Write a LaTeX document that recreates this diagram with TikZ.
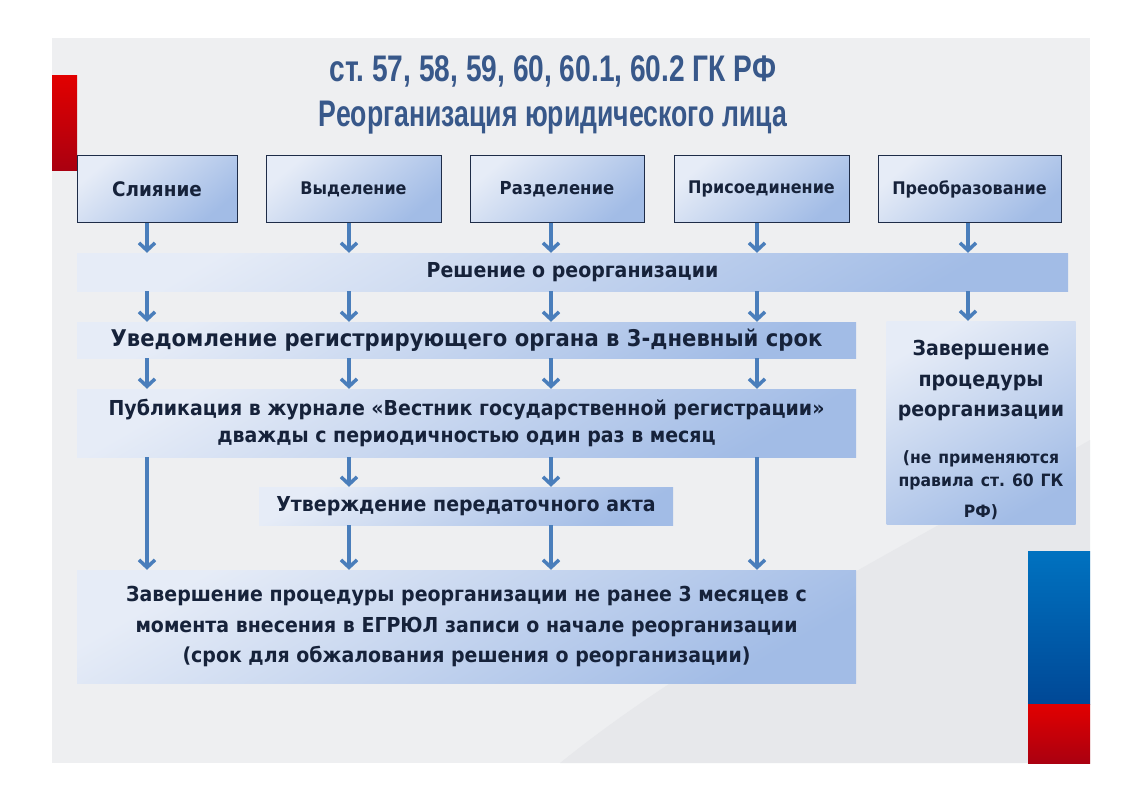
\documentclass[tikz,border=0pt]{standalone}
\usepackage{fontspec}
\setmainfont{DejaVu Sans}[FakeStretch=0.92]
\newfontfamily\titlefont{Liberation Sans}[FakeStretch=0.76]
\newfontfamily\titlenarrow{Liberation Sans}[FakeStretch=0.72]
\usetikzlibrary{arrows.meta,positioning}
\frenchspacing

\definecolor{panelgray}{RGB}{238,239,241}
\definecolor{swooshgray}{RGB}{231,232,235}
\definecolor{boxlight}{RGB}{230,236,247}
\definecolor{boxdark}{RGB}{162,188,230}
\definecolor{framenavy}{RGB}{30,44,72}
\definecolor{textnavy}{RGB}{22,34,58}
\definecolor{titleblue}{RGB}{56,88,138}
\definecolor{arrowblue}{RGB}{74,126,187}
\definecolor{flagred}{RGB}{226,0,0}
\definecolor{flagdarkred}{RGB}{170,0,16}
\definecolor{flagblue}{RGB}{0,114,192}
\definecolor{flagdarkblue}{RGB}{0,72,150}

\newcommand{\smallnote}{\fontsize{17}{23}\selectfont}

\tikzset{
    kind/.style={draw=framenavy, line width=0.8pt, top color=boxlight, bottom color=boxdark, shading angle=40,
        minimum height=67pt, inner sep=0pt, text=textnavy, font=\bfseries\fontsize{17.4}{20}\selectfont},
    stage/.style={top color=boxlight, bottom color=boxdark, shading angle=30, inner sep=0pt,
        align=center, text=textnavy, font=\bfseries\fontsize{20.6}{30.5}\selectfont},
    flow/.style={draw=arrowblue, line width=3.5pt, -{Straight Barb[length=7.5pt,width=16pt]}},
}

\begin{document}
\begin{tikzpicture}[x=1pt,y=-1pt]
    \useasboundingbox (0,0) rectangle (1122,793);
    % background and flag bars
    \fill[white] (0,0) rectangle (1122,793);
    \fill[panelgray] (52,38) rectangle (1090,763);
    \fill[swooshgray] (560,763) .. controls (700,650) and (880,560) .. (1090,440) -- (1090,763) -- cycle;
    \shade[top color=flagred, bottom color=flagdarkred] (52,75) rectangle (77,170);
    \shade[top color=flagblue, bottom color=flagdarkblue] (1028,551) rectangle (1090,704);
    \shade[top color=flagred, bottom color=flagdarkred] (1028,704) rectangle (1090,763);

    % title
    \node[text=titleblue, font=\titlefont\bfseries\fontsize{37}{45}\selectfont, align=center] (title) at (553,95)
        {ст. 57, 58, 59, 60, 60.1, 60.2 ГК РФ\\\titlenarrow Реорганизация юридического лица};

    % kinds of reorganization
    \node[kind, minimum width=160pt, font=\bfseries\fontsize{20}{20}\selectfont] (sl) at (157,189) {Слияние};
    \node[kind, minimum width=175pt] (vyd) at (353.5,189) {Выделение};
    \node[kind, minimum width=174pt, font=\bfseries\fontsize{17.9}{20}\selectfont] (razd) at (557,189) {Разделение};
    \node[kind, minimum width=175pt] (pris) at (761.5,189) {Присоединение};
    \node[kind, minimum width=183pt] (preob) at (969.5,189) {Преобразование};

    % stages
    \node[stage, minimum width=991pt, minimum height=38pt] (resh) at (572.5,272) {Решение о реорганизации};
    \node[stage, minimum width=779pt, minimum height=36pt, font=\bfseries\fontsize{23}{24}\selectfont] (uved) at (466.5,340)
        {Уведомление регистрирующего органа в 3-дневный срок};
    \node[stage, minimum width=779pt, minimum height=68pt, font=\bfseries\fontsize{20.6}{27}\selectfont] (publ) at (466.5,423)
        {Публикация в журнале «Вестник государственной регистрации»\\дважды с периодичностью один раз в месяц};
    \node[stage, minimum width=414pt, minimum height=38pt] (utv) at (466,506) {Утверждение передаточного акта};
    \node[stage, minimum width=779pt, minimum height=113pt] (fin) at (466.5,626.5)
        {Завершение процедуры реорганизации не ранее 3 месяцев с\\момента внесения в ЕГРЮЛ записи о начале реорганизации\\(срок для обжалования решения о реорганизации)};
    \node[stage, text width=189pt, minimum height=203pt, font=\bfseries\fontsize{20.6}{30.5}\selectfont] (zav) at (981,422.5)
        {\mbox{}\\[0pt]Завершение\\процедуры\\реорганизации\\[24pt]\smallnote(не применяются\\\smallnote правила ст. 60 ГК\\\smallnote РФ)};

    % arrow columns
    \coordinate (c1) at (147,0);
    \coordinate (c2) at (349,0);
    \coordinate (c3) at (551,0);
    \coordinate (c4) at (757,0);
    \coordinate (c5) at (968,0);

    \foreach \b/\c in {sl/c1, vyd/c2, razd/c3, pris/c4, preob/c5}{
        \draw[flow] (\b.south -| \c) -- (resh.north -| \c);
    }
    \foreach \c in {c1,c2,c3,c4}{
        \draw[flow] (resh.south -| \c) -- (uved.north -| \c);
        \draw[flow] (uved.south -| \c) -- (publ.north -| \c);
    }
    \draw[flow] (resh.south -| c5) -- (zav.north -| c5);
    \foreach \c in {c1,c4}{
        \draw[flow] (publ.south -| \c) -- (fin.north -| \c);
    }
    \foreach \c in {c2,c3}{
        \draw[flow] (publ.south -| \c) -- (utv.north -| \c);
        \draw[flow] (utv.south -| \c) -- (fin.north -| \c);
    }
\end{tikzpicture}
\end{document}
